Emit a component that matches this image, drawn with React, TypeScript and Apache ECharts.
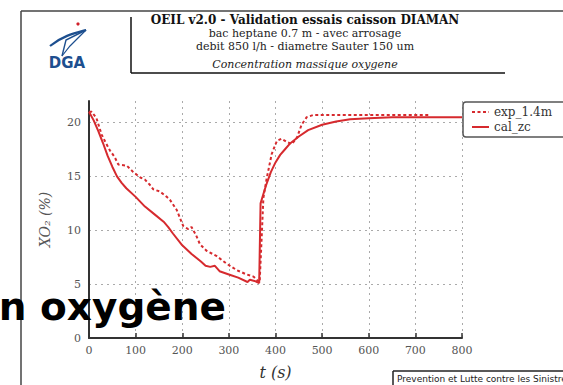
import React, { useEffect, useRef } from "react";
import * as echarts from "echarts";

const calT = [0, 10, 20, 30, 40, 50, 60, 70, 80, 100, 120, 140, 160, 170, 180, 200, 220, 240, 250, 260, 270, 280, 300, 320, 340, 345, 355, 365, 368, 375, 380, 390, 400, 410, 420, 430, 450, 470, 500, 530, 560, 600, 650, 700, 800];
const calV = [21.0, 20.2, 19.2, 18.1, 16.9, 15.9, 15.0, 14.4, 13.9, 13.1, 12.2, 11.5, 10.8, 10.3, 9.7, 8.6, 7.8, 7.1, 6.7, 6.6, 6.7, 6.2, 5.9, 5.6, 5.2, 5.4, 5.3, 5.1, 12.5, 13.5, 14.2, 15.4, 16.3, 17.0, 17.5, 18.0, 18.7, 19.3, 19.8, 20.1, 20.3, 20.4, 20.5, 20.5, 20.5];

const expT = [0, 6, 16, 27, 35, 45, 55, 63, 81, 95, 110, 120, 131, 138, 152, 167, 174, 188, 202, 213, 220, 230, 238, 252, 274, 295, 317, 338, 353, 362, 366, 370, 374, 381, 392, 403, 413, 424, 435, 446, 456, 467, 481, 500, 550, 600, 650, 700, 728];
const expV = [21.0, 21.0, 20.4, 18.9, 18.2, 17.4, 16.8, 16.1, 16.0, 15.4, 14.9, 14.7, 14.2, 13.8, 13.6, 13.1, 12.8, 11.9, 10.4, 10.1, 10.3, 9.5, 8.7, 8.1, 7.6, 6.9, 6.3, 5.9, 5.7, 5.3, 5.2, 9.0, 13.0, 14.8, 17.1, 18.3, 18.5, 18.2, 18.0, 18.6, 19.8, 20.5, 20.7, 20.7, 20.7, 20.7, 20.7, 20.7, 20.7];

const seriesNames = ["exp_1.4m", "cal_zc"];
const titleLines = [
  "OEIL v2.0 - Validation essais caisson DIAMAN",
  "bac heptane 0.7 m - avec arrosage",
  "debit 850 l/h - diametre Sauter 150 um",
  "Concentration massique oxygene",
];
const overlayText = "n oxygène";
const footerText = "Prevention et Lutte contre les Sinistres";

const RED = "#d62a2e";
const SERIF = "'DejaVu Serif', serif";

export default function App() {
  const ref = useRef<HTMLDivElement>(null);
  useEffect(() => {
    if (!ref.current) return;
    const chart = echarts.init(ref.current, null, { renderer: "svg" });
    const pair = (ts: number[], vs: number[]) => ts.map((t, i) => [t, vs[i]]);
    chart.setOption({
      animation: false,
      backgroundColor: "#fff",
      grid: { left: 89, right: 101, top: 101, bottom: 33 },
      legend: {
        orient: "vertical",
        left: 463,
        top: 102,
        itemWidth: 17,
        itemHeight: 10,
        itemGap: 3,
        padding: [4, 22, 4, 8],
        borderColor: "#555",
        borderWidth: 1.5,
        borderRadius: 3,
        backgroundColor: "#fff",
        itemStyle: { opacity: 0 },
        textStyle: { fontFamily: SERIF, fontSize: 12, color: "#333" },
        data: seriesNames,
      },
      xAxis: {
        type: "value",
        min: 0,
        max: 800,
        interval: 100,
        name: "t (s)",
        nameLocation: "middle",
        nameGap: 26,
        nameTextStyle: { fontFamily: SERIF, fontStyle: "italic", fontSize: 16, color: "#333" },
        axisLine: { lineStyle: { color: "#333", width: 2 } },
        axisTick: { inside: true, length: 5, lineStyle: { color: "#333", width: 1.5 } },
        axisLabel: { fontFamily: SERIF, fontSize: 11, color: "#555", margin: 7 },
        splitLine: { show: true, lineStyle: { color: "#aaa", type: [2, 4], width: 1 } },
      },
      yAxis: {
        type: "value",
        min: 0,
        max: 22,
        interval: 5,
        name: "XO₂ (%)",
        nameLocation: "middle",
        nameGap: 37,
        nameTextStyle: { fontFamily: SERIF, fontStyle: "italic", fontSize: 14, color: "#555" },
        axisLine: { show: true, lineStyle: { color: "#333", width: 2 } },
        axisTick: { show: false },
        axisLabel: { fontFamily: SERIF, fontSize: 11, color: "#555", margin: 8, showMaxLabel: false },
        splitLine: { show: true, showMaxLine: false, lineStyle: { color: "#aaa", type: [2, 4], width: 1 } },
      },
      series: [
        {
          name: seriesNames[0],
          type: "line",
          data: pair(expT, expV),
          symbol: "none",
          color: RED,
          lineStyle: { color: RED, width: 2, type: [3, 2.5] },
          z: 3,
        },
        {
          name: seriesNames[1],
          type: "line",
          data: pair(calT, calV),
          symbol: "none",
          color: RED,
          lineStyle: { color: RED, width: 2 },
          z: 4,
        },
      ],
      graphic: [
        { type: "line", shape: { x1: 21, y1: 11, x2: 563, y2: 11 }, style: { stroke: "#444", lineWidth: 1.5 } },
        { type: "line", shape: { x1: 21, y1: 11, x2: 21, y2: 385 }, style: { stroke: "#444", lineWidth: 1.5 } },
        { type: "line", shape: { x1: 131, y1: 17, x2: 131, y2: 73 }, style: { stroke: "#111", lineWidth: 1.5 } },
        { type: "line", shape: { x1: 131, y1: 73, x2: 505, y2: 73 }, style: { stroke: "#111", lineWidth: 1.5 } },
        { type: "text", x: 305, y: 20, style: { text: titleLines[0], font: "bold 12px 'DejaVu Serif', serif", fill: "#111", textAlign: "center", textVerticalAlign: "middle" } },
        { type: "text", x: 305, y: 33, style: { text: titleLines[1], font: "11px 'DejaVu Serif', serif", fill: "#222", textAlign: "center", textVerticalAlign: "middle" } },
        { type: "text", x: 305, y: 46, style: { text: titleLines[2], font: "11px 'DejaVu Serif', serif", fill: "#222", textAlign: "center", textVerticalAlign: "middle" } },
        { type: "text", x: 305, y: 64, style: { text: titleLines[3], font: "italic 11px 'DejaVu Serif', serif", fill: "#222", textAlign: "center", textVerticalAlign: "middle" } },
        // DGA logo
        { type: "circle", shape: { cx: 78, cy: 24, r: 1.6 }, style: { fill: "#d0202a" } },
        { type: "bezierCurve", shape: { x1: 50, y1: 46, x2: 86, y2: 30, cpx1: 62, cpy1: 36, cpx2: 75, cpy2: 33 }, style: { stroke: "#1d4f8f", lineWidth: 2.2, fill: null } },
        { type: "polyline", shape: { points: [[86, 30], [66, 40], [62, 56]] }, style: { stroke: "#1d4f8f", lineWidth: 1.4, fill: null } },
        { type: "polyline", shape: { points: [[86, 30], [70, 46], [62, 56]] }, style: { stroke: "#1d4f8f", lineWidth: 1.2, fill: null } },
        { type: "text", x: 67, y: 63, style: { text: "DGA", font: "bold 15px 'DejaVu Sans', sans-serif", fill: "#1d4f8f", textAlign: "center", textVerticalAlign: "middle" } },
        // footer box
        { type: "line", shape: { x1: 393, y1: 371, x2: 563, y2: 371 }, style: { stroke: "#222", lineWidth: 1.5 } },
        { type: "line", shape: { x1: 393, y1: 371, x2: 393, y2: 385 }, style: { stroke: "#222", lineWidth: 1.5 } },
        { type: "text", x: 397, y: 379, style: { text: footerText, font: "9px 'DejaVu Sans', sans-serif", fill: "#222", textVerticalAlign: "middle" } },
        // overlay
        { type: "text", x: 226, y: 306, z: 100, style: { text: overlayText, font: "bold 39px 'DejaVu Sans', sans-serif", fill: "#000", textAlign: "right", textVerticalAlign: "middle" } },
      ],
    });
    return () => chart.dispose();
  }, []);
  return <div ref={ref} style={{ width: 563, height: 385, position: "fixed", left: 0, top: 0 }} />;
}
